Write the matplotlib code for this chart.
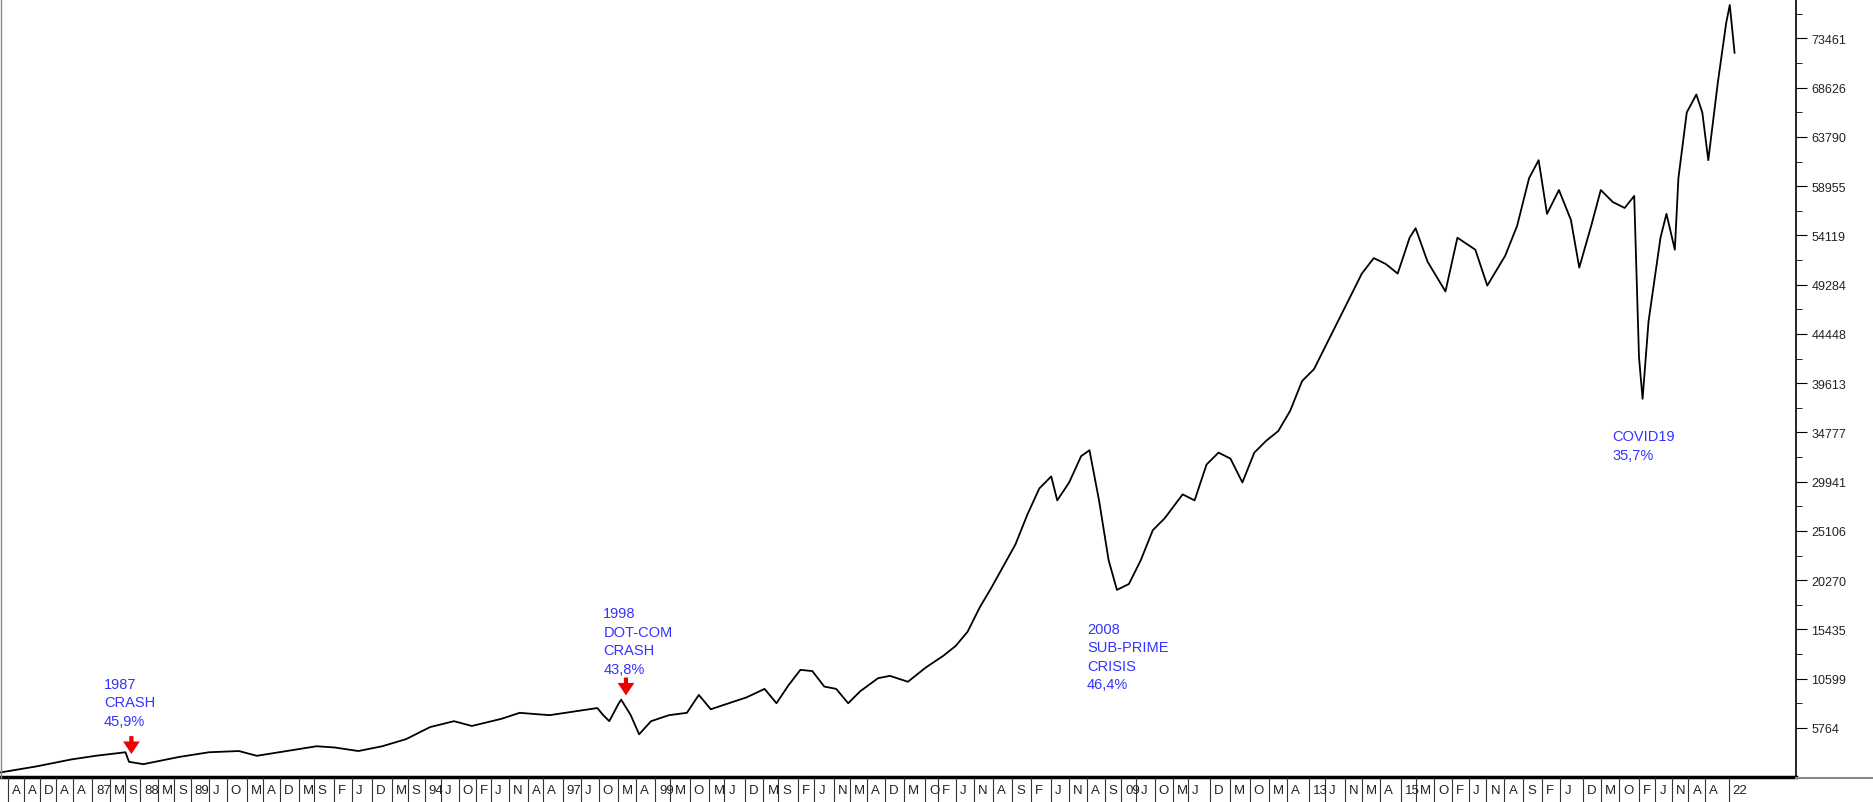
import matplotlib
matplotlib.use("Agg")
import matplotlib.pyplot as plt
plt.rcParams['font.family'] = ['Liberation Sans', 'DejaVu Sans']

# price series: (bar position, index value)
pos = [0,30,60,80,105,108,120,150,175,200,215,240,265,280,300,320,340,360,380,395,420,435,460,480,500,505,510,518,520,528,535,545,560,575,585,595,610,625,640,650,660,670,680,690,700,710,720,735,745,760,775,790,800,810,820,830,840,850,860,870,880,885,895,905,912,920,928,935,945,955,965,975,990,1000,1010,1020,1030,1040,1050,1060,1070,1080,1090,1100,1110,1120,1130,1140,1150,1160,1170,1180,1185,1195,1210,1220,1235,1245,1260,1270,1280,1288,1295,1305,1315,1322,1332,1340,1350,1360,1368,1372,1375,1380,1390,1395,1402,1405,1412,1420,1425,1430,1438,1445,1448,1452]
vals = [1390,1980,2680,3030,3380,2440,2210,2920,3380,3500,3030,3500,3970,3850,3500,3970,4670,5850,6430,5960,6670,7250,7020,7370,7720,7020,6430,8190,8540,7020,5140,6430,7020,7250,9010,7600,8190,8770,9600,8190,9950,11470,11350,9830,9600,8190,9360,10650,10880,10300,11700,12880,13820,15220,17570,19560,21670,23780,26710,29280,30460,28110,29870,32450,33030,28110,22250,19320,19900,22250,25180,26360,28700,28110,31630,32800,32210,29870,32800,33970,34910,36900,39830,41000,43350,45690,48030,50380,51900,51320,50380,53900,54830,51550,48620,53900,52720,49200,52130,55070,59750,61510,56240,58580,55650,50960,55070,58580,57410,56820,58000,42180,38080,45690,53900,56240,52720,59750,66200,67960,66200,61510,69140,74990,76750,72060]

yticks = [5764,10599,15435,20270,25106,29941,34777,39613,44448,49284,54119,58955,63790,68626,73461]

xlab = ["A","A","D","A","A","87","M","S","88","M","S","89","J","O","M","A","D","M","S","F","J","D","M","S","94","J","O","F","J","N","A","A","97","J","O","M","A","99","M","O","M","J","D","M","S","F","J","N","M","A","D","M","O"]
xlab_z = [20,47,73,100,128,160,190,215,240,270,297,325,355,385,418,445,473,505,530,563,593,627,660,687,715,742,772,800,826,856,887,913,945,975,1005,1037,1068,1100,1125,1157,1190,1215,1249,1280,1305,1337,1365,1397,1425,1452,1483,1515,1550]
xlab2 = ["F","J","N","A","S","F","J","N","A","S","09","J","O","M","J","D","M","O","M","A","13","J","N","M","A","15","M","O","F","J","N","A","S","F","J","D","M","O","F","J","N","A","A","22"]
xlab2_z = [20,50,80,112,143,175,208,237,267,297,325,350,380,410,436,472,505,538,570,600,637,663,697,725,755,790,815,845,875,903,932,962,993,1025,1055,1092,1122,1153,1185,1213,1240,1268,1295,1335]

notes = [(87, 573, ["1987", "CRASH", "45,9%"]),
         (505, 514, ["1998", "DOT-COM", "CRASH", "43,8%"]),
         (910, 527, ["2008", "SUB-PRIME", "CRISIS", "46,4%"]),
         (1350, 366, ["COVID19", "35,7%"])]
arrows = [(110, 617), (524, 568)]

S = 1.1946
W, H = 1873, 803
fig = plt.figure(figsize=(W/100, H/100), dpi=100)
ax = fig.add_axes([0, 1-778/H, 1796/W, 778/H])
ax.plot(pos, vals, color="black", lw=1.3)
xmax = 1796/S
ax.set_xlim(0, xmax)
ylo, yhi = 950, 77336
ax.set_ylim(ylo, yhi)
ax.yaxis.tick_right()
ax.set_yticks(yticks)
ax.set_yticklabels([str(v) for v in yticks], fontsize=9, color="#222222")
ax.set_yticks([v + 4835.6/2 for v in yticks], minor=True)
ax.tick_params(axis="y", which="major", length=8, direction="out", pad=3)
ax.tick_params(axis="y", which="minor", length=4, direction="out")
ax.set_xticks([])
for s in ["top", "left"]:
    ax.spines[s].set_visible(False)
ax.spines["bottom"].set_linewidth(2.5)
ax.spines["right"].set_linewidth(1.2)

positions = [z/1.668/S for z in xlab_z] + [(930 + z/1.663)/S for z in xlab2_z]
labels = xlab + xlab2
for p, l in zip(positions, labels):
    xf = p*S/W
    fig.text(xf, 1-791/H, l, fontsize=9.5, ha="left", va="center", color="#222222")
    fig.add_artist(plt.Line2D([xf-4/W, xf-4/W], [0, 1-779/H], color="#333333", lw=0.8))
fig.add_artist(plt.Line2D([1796/W, 1], [1-779/H, 1-779/H], color="#888888", lw=1.5))
fig.add_artist(plt.Line2D([1/W, 1/W], [1-779/H, 1], color="#888888", lw=1))

def ydata(yd):
    yo = yd*S
    return yhi - (yhi-ylo)*yo/778

for x, y, lines in notes:
    for i, t in enumerate(lines):
        ax.text(x, ydata(y + i*15.5), t, color="#3333ff", fontsize=10.5, ha="left", va="center")
for x, y in arrows:
    ax.annotate("", xy=(x, ydata(y+15)), xytext=(x, ydata(y)),
                arrowprops=dict(width=3, headwidth=12, headlength=9, color="#ee0000", lw=0))

fig.savefig("out.png", dpi=100)
